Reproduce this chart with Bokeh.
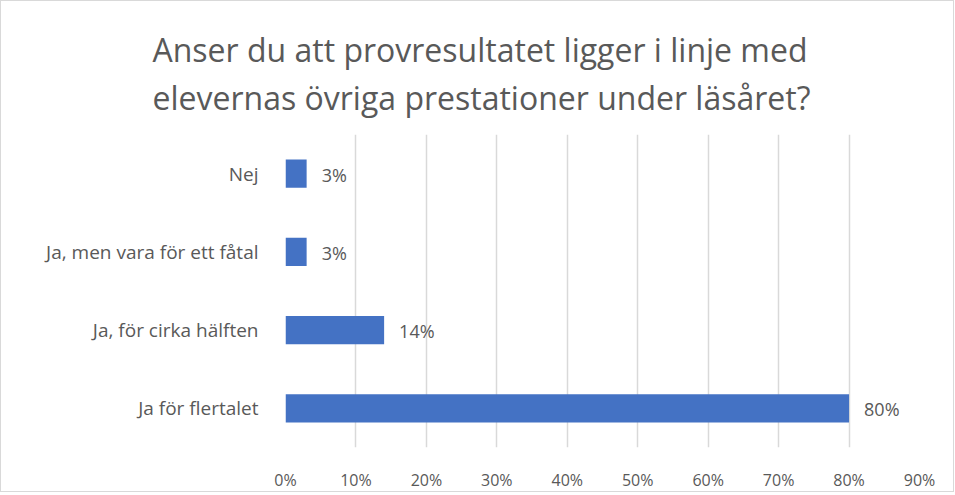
from bokeh.plotting import figure
from bokeh.models import FactorRange, Range1d, FixedTicker, NumeralTickFormatter, Title, ColumnDataSource, LabelSet
from bokeh.core.properties import value
from bokeh.embed import file_html
from bokeh.resources import INLINE

categories = ["Ja för flertalet", "Ja, för cirka hälften", "Ja, men vara för ett fåtal", "Nej"]
values = [0.80, 0.14, 0.03, 0.03]
value_labels = ["80%", "14%", "3%", "3%"]
x_ticks = [0.0, 0.1, 0.2, 0.3, 0.4, 0.5, 0.6, 0.7, 0.8, 0.9]
title_lines = ["Anser du att provresultatet ligger i linje med",
               "elevernas övriga prestationer under läsåret?"]

FONT = "Open Sans"
TXT = "#595959"

p = figure(width=954, height=492, output_backend="svg", toolbar_location=None,
           y_range=FactorRange(factors=categories, range_padding=0),
           x_range=Range1d(0, 0.9),
           min_border_left=284, min_border_right=36, min_border_top=133, min_border_bottom=44)
p.styles = {"border": "1px solid #d9d9d9"}
p.outline_line_color = None

src = ColumnDataSource(dict(cat=categories, val=values, lab=value_labels))
p.hbar(y="cat", right="val", left=0, height=0.36, source=src, color="#4472C4", line_color=None)

labels = LabelSet(x="val", y="cat", text="lab", source=src, x_offset=15, y_offset=-1,
                  text_baseline="middle", text_align="left", text_font=value(FONT),
                  text_font_size="18px", text_color=TXT)
p.add_layout(labels)

p.xaxis.ticker = FixedTicker(ticks=x_ticks)
p.xaxis.formatter = NumeralTickFormatter(format="0%")
for ax in (p.xaxis, p.yaxis):
    ax.axis_line_color = None
    ax.major_tick_line_color = None
    ax.minor_tick_line_color = None
    ax.major_label_text_font = FONT
    ax.major_label_text_color = TXT
p.xaxis.major_label_text_font_size = "16px"
p.yaxis.major_label_text_font_size = "19px"
p.xaxis.major_label_standoff = 15
p.yaxis.major_label_standoff = 21

p.xgrid.grid_line_color = "#d9d9d9"
p.xgrid.grid_line_width = 1.5
p.ygrid.grid_line_color = None

p.add_layout(Title(text="\n".join(title_lines), align="left", offset=-133,
                   text_font=FONT, text_font_size="32px", text_color=TXT,
                   text_font_style="normal", text_line_height=1.11, standoff=31), "above")

open("out.html", "w").write(file_html(p, INLINE))
